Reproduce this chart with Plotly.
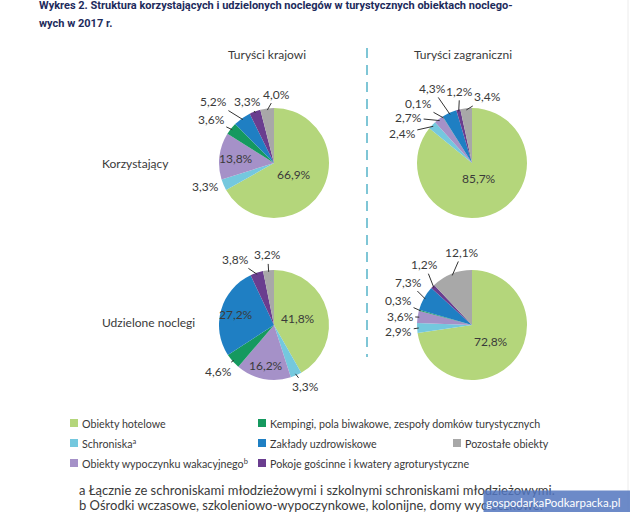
import math
import plotly.graph_objects as go

W, H = 630, 512

# ---------------- data ----------------
categories = [
    "Obiekty hotelowe",
    "Schroniska",
    "Obiekty wypoczynku wakacyjnego",
    "Kempingi, pola biwakowe, zespoły domków turystycznych",
    "Zakłady uzdrowiskowe",
    "Pokoje gościnne i kwatery agroturystyczne",
    "Pozostałe obiekty",
]
krajowi_korzystajacy = [66.9, 3.3, 13.8, 3.6, 5.2, 3.3, 4.0]
zagraniczni_korzystajacy = [85.7, 2.4, 2.7, 0.1, 4.3, 1.2, 3.4]
krajowi_udzielone = [41.8, 3.3, 16.2, 4.6, 27.2, 3.8, 3.2]
zagraniczni_udzielone = [72.8, 2.9, 3.6, 0.3, 7.3, 1.2, 12.1]

column_titles = ["Turyści krajowi", "Turyści zagraniczni"]
row_titles = ["Korzystający", "Udzielone noclegi"]
title_lines = [
    "Wykres 2. Struktura korzystających i udzielonych noclegów w turystycznych obiektach noclego-",
    "wych w 2017 r.",
]
legend_texts = [
    "Obiekty hotelowe",
    "Schroniska<sup>a</sup>",
    "Obiekty wypoczynku wakacyjnego<sup>b</sup>",
    "Kempingi, pola biwakowe, zespoły domków turystycznych",
    "Zakłady uzdrowiskowe",
    "Pokoje gościnne i kwatery agroturystyczne",
    "Pozostałe obiekty",
]
footnotes = [
    "a Łącznie ze schroniskami młodzieżowymi i szkolnymi schroniskami młodzieżowymi.",
    "b Ośrodki wczasowe, szkoleniowo-wypoczynkowe, kolonijne, domy wycieczkowe.",
]
watermark = "gospodarkaPodkarpacka.pl"

# ---------------- styles / layout ----------------
colors = ["#b4d67b", "#74c8de", "#a591c8", "#15995f", "#1f7fc3", "#6a3d8f", "#a8a8a8"]
TXT = "#3a3a3a"
FONT = "Lato, Roboto, sans-serif"
R = 55

# label specs: ("in", radius_fraction) or ("out", ax, ay, draw_line)
pies = [
    dict(values=krajowi_korzystajacy, cx=274, cy=163,
         labels=[("in", 0.42), ("out", -20, 2, False), ("in", 0.70), ("out", -21, -10, True),
                 ("out", -29, -18, True), ("out", -8, -11, True), ("out", 9, -16, True)]),
    dict(values=zagraniczni_korzystajacy, cx=472, cy=163,
         labels=[("in", 0.31), ("out", -31, 7, True), ("out", -31, -3, True), ("out", -25, -14, True),
                 ("out", -18, -26, True), ("out", 1, -20, True), ("out", 21, -13, True)]),
    dict(values=krajowi_udzielone, cx=274, cy=325,
         labels=[("in", 0.45), ("out", 10, 13, True), ("in", 0.75), ("out", -15, 11, True),
                 ("in", 0.71), ("out", -22, -15, True), ("out", -1, -17, True)]),
    dict(values=zagraniczni_udzielone, cx=472, cy=325,
         labels=[("in", 0.45), ("out", -20, 3, True), ("out", -19, -1, True), ("out", -22, -10, True),
                 ("out", -17, -17, True), ("out", -9, -23, True), ("out", 10, -23, True)]),
]


def px(x):
    return x / W


def py(y):
    return 1 - y / H


def fmt(v):
    return f"{v:.1f}".replace(".", ",") + "%"


def text_ann(x, y, text, size=12, color=TXT, family=FONT, xanchor="center", **kw):
    d = dict(x=px(x), y=py(y), xref="paper", yref="paper", xanchor=xanchor, yanchor="middle",
             text=text, showarrow=False, font=dict(size=size, color=color, family=family))
    d.update(kw)
    return d


fig = go.Figure()
annotations = []
shapes = []

for p in pies:
    cx, cy = p["cx"], p["cy"]
    fig.add_trace(go.Pie(
        values=p["values"], labels=categories, sort=False, direction="clockwise",
        marker=dict(colors=colors, line=dict(width=0)),
        textinfo="none", hoverinfo="skip", showlegend=False,
        domain=dict(x=[px(cx - R), px(cx + R)], y=[py(cy + R), py(cy - R)]),
    ))
    total = sum(p["values"])
    cum = 0.0
    for v, spec in zip(p["values"], p["labels"]):
        mid = (cum + v / 2) / total * 2 * math.pi
        cum += v
        sx, sy = math.sin(mid), -math.cos(mid)
        if spec[0] == "in":
            r = spec[1] * R
            annotations.append(text_ann(cx + sx * r, cy + sy * r, fmt(v)))
        else:
            _, ax, ay, line = spec
            r = 0.97 * R
            annotations.append(dict(x=px(cx + sx * r), y=py(cy + sy * r), xref="paper", yref="paper",
                                    xanchor="center", yanchor="middle",
                                    text=fmt(v), showarrow=True, arrowhead=0, arrowwidth=1,
                                    arrowcolor="#333333" if line else "rgba(0,0,0,0)",
                                    ax=ax, ay=ay, standoff=0, startstandoff=0,
                                    font=dict(size=12, color=TXT, family=FONT)))

# title
for i, t in enumerate(title_lines):
    annotations.append(text_ann(37, 5 + 18 * i, f"<b>{t}</b>", size=11, color="#1d2b5c",
                                family="Liberation Sans Narrow, Roboto, sans-serif", xanchor="left"))

# column / row titles
for t, x in zip(column_titles, [267, 463]):
    annotations.append(text_ann(x, 54, t))
for t, y in zip(row_titles, [163, 322]):
    annotations.append(text_ann(100, y, t, xanchor="left"))

# dashed divider
shapes.append(dict(type="line", xref="paper", yref="paper", x0=px(367), x1=px(367), y0=py(48), y1=py(357),
                   line=dict(color="#7fc6d6", width=2, dash="10px,7px")))
# faint right border
shapes.append(dict(type="line", xref="paper", yref="paper", x0=px(628), x1=px(628), y0=0, y1=1,
                   line=dict(color="#ececec", width=1)))

# legend (custom 3-column layout)
legend_pos = [(70, 423), (70, 443), (70, 463), (258, 423), (258, 443), (258, 463), (453, 443)]
for t, c, (x, y) in zip(legend_texts, colors, legend_pos):
    shapes.append(dict(type="rect", xref="paper", yref="paper", x0=px(x), x1=px(x + 8),
                       y0=py(y + 4), y1=py(y - 4), fillcolor=c, line=dict(width=0)))
    annotations.append(text_ann(x + 10, y, t, size=10.7, xanchor="left"))

# footnotes
for i, t in enumerate(footnotes):
    annotations.append(text_ann(77, 490 + 15 * i, t, size=13, xanchor="left"))

# watermark
annotations.append(text_ann(483, 502, watermark, size=11.5, color="white", xanchor="left",
                            width=143, height=18, align="left", borderpad=2,
                            bgcolor="rgba(82,118,190,0.85)"))

fig.update_layout(
    width=W, height=H, margin=dict(l=0, r=0, t=0, b=0),
    paper_bgcolor="white", plot_bgcolor="white",
    annotations=annotations, shapes=shapes,
)

fig.write_html("out.html", config={"displayModeBar": False},
               post_script="document.body.style.margin='0';")
